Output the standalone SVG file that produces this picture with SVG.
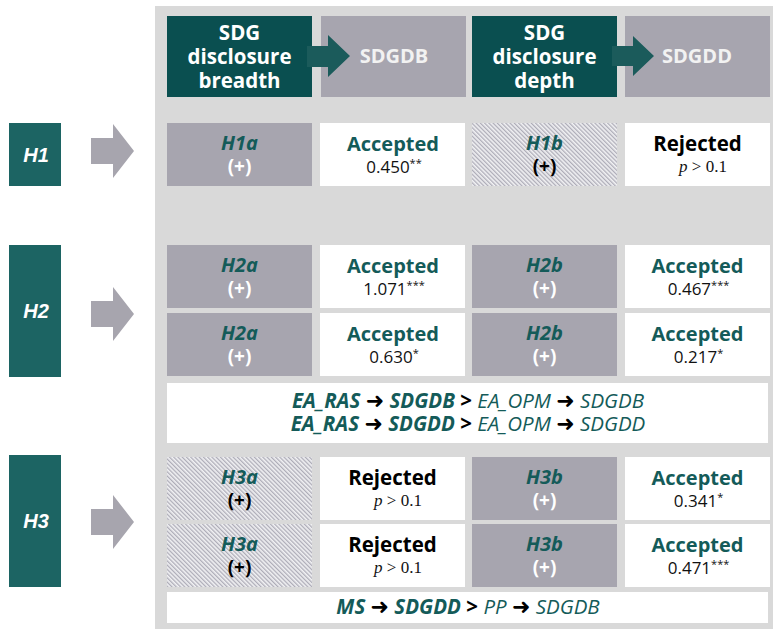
<svg xmlns="http://www.w3.org/2000/svg" width="773" height="629" viewBox="0 0 773 629">
<defs>
<pattern id="hatch" width="3" height="3" patternUnits="userSpaceOnUse" patternTransform="rotate(-45)">
<rect width="3" height="3" fill="#f1f1f3"/>
<rect width="1.3" height="3" fill="#aeadb8"/>
</pattern>
<style>
.panel{fill:#d9d9d9}
.dark{fill:#0a4f50}
.gray{fill:#a7a5af}
.white{fill:#ffffff}
.hatch{fill:url(#hatch)}
.lab{fill:#1c6463}
.larrow{fill:#a7a5ae}
.harrow{fill:#1b5b5b}
text{font-family:"Open Sans","Noto Sans",sans-serif;text-anchor:middle}
.hdr{font-size:20.5px;font-weight:700;fill:#ffffff}
.hdr2{font-size:20px;font-weight:700;fill:#f2f2f2}
.hyp{font-size:20px;font-weight:700;font-style:italic;fill:#145b59}
.plus{font-size:19px;font-weight:700;fill:#ffffff}
.plusb{font-size:19px;font-weight:700;fill:#000000}
.acc{font-size:20px;font-weight:700;fill:#145b59}
.rej{font-size:20.5px;font-weight:700;fill:#000000}
.num{font-size:17px;fill:#111111}
.sup{font-size:11px}
.pv{font-family:"Liberation Serif","DejaVu Serif",serif;font-size:17px;fill:#111111}
.hl{font-family:"Liberation Sans",Arial,sans-serif;font-size:20px;font-weight:700;font-style:italic;fill:#ffffff}
.rel{font-size:20.5px;fill:#145b59}
.bi{font-weight:700;font-style:italic}
.ri{font-style:italic}
.ar{font-family:"DejaVu Sans",sans-serif;font-weight:700;fill:#000000;font-size:22px}
.gt{font-weight:700;fill:#000000}
</style>
</defs>

<rect class="panel" x="155" y="6" width="618" height="623"/>

<g id="hdr-breadth"><rect class="dark" x="167" y="16" width="145" height="81"/>
<text class="hdr" x="239.5" y="40">SDG</text><text class="hdr" x="239.5" y="64">disclosure</text><text class="hdr" x="239.5" y="88">breadth</text></g>
<g id="hdr-sdgdb"><rect class="gray" x="321" y="16" width="145" height="81"/><text class="hdr2" x="394" y="63">SDGDB</text></g>
<g id="hdr-depth"><rect class="dark" x="472" y="16" width="145" height="81"/>
<text class="hdr" x="544.5" y="40">SDG</text><text class="hdr" x="544.5" y="64">disclosure</text><text class="hdr" x="544.5" y="88">depth</text></g>
<g id="hdr-sdgdd"><rect class="gray" x="625" y="16" width="145" height="81"/><text class="hdr2" x="697" y="63">SDGDD</text></g>

<!-- H1 -->
<g id="H1"><rect class="lab" x="9" y="123" width="52" height="63"/><text class="hl" x="36" y="162">H1</text></g>
<g id="H1a"><rect class="gray" x="167" y="123" width="145" height="63"/><text class="hyp" x="239.5" y="150">H1a</text><text class="plus" x="239.5" y="173">(+)</text></g>
<g id="H1a-res"><rect class="white" x="320" y="123" width="145" height="63"/><text class="acc" x="393" y="151">Accepted</text><text class="num" x="394" y="173">0.450<tspan class="sup" dy="-6">**</tspan></text></g>
<g id="H1b"><rect class="hatch" x="472" y="123" width="145" height="63"/><text class="hyp" x="544.5" y="150">H1b</text><text class="plusb" x="544.5" y="173">(+)</text></g>
<g id="H1b-res"><rect class="white" x="625" y="123" width="145" height="63"/><text class="rej" x="697.5" y="151">Rejected</text><text class="pv" x="703" y="172"><tspan font-style="italic">p</tspan> &gt; 0.1</text></g>

<!-- H2 -->
<g id="H2"><rect class="lab" x="9" y="245" width="52" height="132"/><text class="hl" x="36" y="318">H2</text></g>
<g id="H2a-1"><rect class="gray" x="167" y="245" width="145" height="63"/><text class="hyp" x="239.5" y="272">H2a</text><text class="plus" x="239.5" y="295">(+)</text></g>
<g id="H2a-1-res"><rect class="white" x="320" y="245" width="145" height="63"/><text class="acc" x="393" y="273">Accepted</text><text class="num" x="394" y="295">1.071<tspan class="sup" dy="-6">***</tspan></text></g>
<g id="H2b-1"><rect class="gray" x="472" y="245" width="145" height="63"/><text class="hyp" x="544.5" y="272">H2b</text><text class="plus" x="544.5" y="295">(+)</text></g>
<g id="H2b-1-res"><rect class="white" x="625" y="245" width="145" height="63"/><text class="acc" x="697.5" y="273">Accepted</text><text class="num" x="698.5" y="295">0.467<tspan class="sup" dy="-6">***</tspan></text></g>

<g id="H2a-2"><rect class="gray" x="167" y="313" width="145" height="63"/><text class="hyp" x="239.5" y="340">H2a</text><text class="plus" x="239.5" y="363">(+)</text></g>
<g id="H2a-2-res"><rect class="white" x="320" y="313" width="145" height="63"/><text class="acc" x="393" y="341">Accepted</text><text class="num" x="394" y="363">0.630<tspan class="sup" dy="-6">*</tspan></text></g>
<g id="H2b-2"><rect class="gray" x="472" y="313" width="145" height="63"/><text class="hyp" x="544.5" y="340">H2b</text><text class="plus" x="544.5" y="363">(+)</text></g>
<g id="H2b-2-res"><rect class="white" x="625" y="313" width="145" height="63"/><text class="acc" x="697.5" y="341">Accepted</text><text class="num" x="698.5" y="363">0.217<tspan class="sup" dy="-6">*</tspan></text></g>

<g id="H2-compare"><rect class="white" x="167" y="383" width="601" height="60"/>
<text class="rel" x="468" y="408"><tspan class="bi">EA_RAS</tspan> <tspan class="ar">➜</tspan> <tspan class="bi">SDGDB</tspan> <tspan class="gt">&gt;</tspan> <tspan class="ri">EA_OPM</tspan> <tspan class="ar">➜</tspan> <tspan class="ri">SDGDB</tspan></text>
<text class="rel" x="468" y="431"><tspan class="bi">EA_RAS</tspan> <tspan class="ar">➜</tspan> <tspan class="bi">SDGDD</tspan> <tspan class="gt">&gt;</tspan> <tspan class="ri">EA_OPM</tspan> <tspan class="ar">➜</tspan> <tspan class="ri">SDGDD</tspan></text></g>

<!-- H3 -->
<g id="H3"><rect class="lab" x="9" y="455" width="52" height="132"/><text class="hl" x="36" y="528">H3</text></g>
<g id="H3a-1"><rect class="hatch" x="167" y="457" width="145" height="63"/><text class="hyp" x="239.5" y="484">H3a</text><text class="plusb" x="239.5" y="507">(+)</text></g>
<g id="H3a-1-res"><rect class="white" x="320" y="457" width="145" height="63"/><text class="rej" x="392.5" y="485">Rejected</text><text class="pv" x="398" y="506"><tspan font-style="italic">p</tspan> &gt; 0.1</text></g>
<g id="H3b-1"><rect class="gray" x="472" y="457" width="145" height="63"/><text class="hyp" x="544.5" y="484">H3b</text><text class="plus" x="544.5" y="507">(+)</text></g>
<g id="H3b-1-res"><rect class="white" x="625" y="457" width="145" height="63"/><text class="acc" x="697.5" y="485">Accepted</text><text class="num" x="698.5" y="507">0.341<tspan class="sup" dy="-6">*</tspan></text></g>

<g id="H3a-2"><rect class="hatch" x="167" y="524" width="145" height="63"/><text class="hyp" x="239.5" y="551">H3a</text><text class="plusb" x="239.5" y="574">(+)</text></g>
<g id="H3a-2-res"><rect class="white" x="320" y="524" width="145" height="63"/><text class="rej" x="392.5" y="552">Rejected</text><text class="pv" x="398" y="573"><tspan font-style="italic">p</tspan> &gt; 0.1</text></g>
<g id="H3b-2"><rect class="gray" x="472" y="524" width="145" height="63"/><text class="hyp" x="544.5" y="551">H3b</text><text class="plus" x="544.5" y="574">(+)</text></g>
<g id="H3b-2-res"><rect class="white" x="625" y="524" width="145" height="63"/><text class="acc" x="697.5" y="552">Accepted</text><text class="num" x="698.5" y="574">0.471<tspan class="sup" dy="-6">***</tspan></text></g>

<g id="H3-compare"><rect class="white" x="167" y="592" width="601" height="31"/>
<text class="rel" x="468" y="614"><tspan class="bi">MS</tspan> <tspan class="ar">➜</tspan> <tspan class="bi">SDGDD</tspan> <tspan class="gt">&gt;</tspan> <tspan class="ri">PP</tspan> <tspan class="ar">➜</tspan> <tspan class="ri">SDGDB</tspan></text></g>

<g id="connectors">
<polygon class="harrow" points="307,46 328,46 328,35 350,56 328,77 328,67 307,67"/>
<polygon class="harrow" points="612,46 633,46 633,36 654,56 633,76 633,66 612,66"/>
<polygon class="larrow" points="91,138 113,138 113,124 134,151 113,178 113,164 91,164"/>
<polygon class="larrow" points="91,301 113,301 113,287 134,314 113,341 113,327 91,327"/>
<polygon class="larrow" points="91,509 113,509 113,495 134,522 113,549 113,535 91,535"/>
</g>
</svg>
